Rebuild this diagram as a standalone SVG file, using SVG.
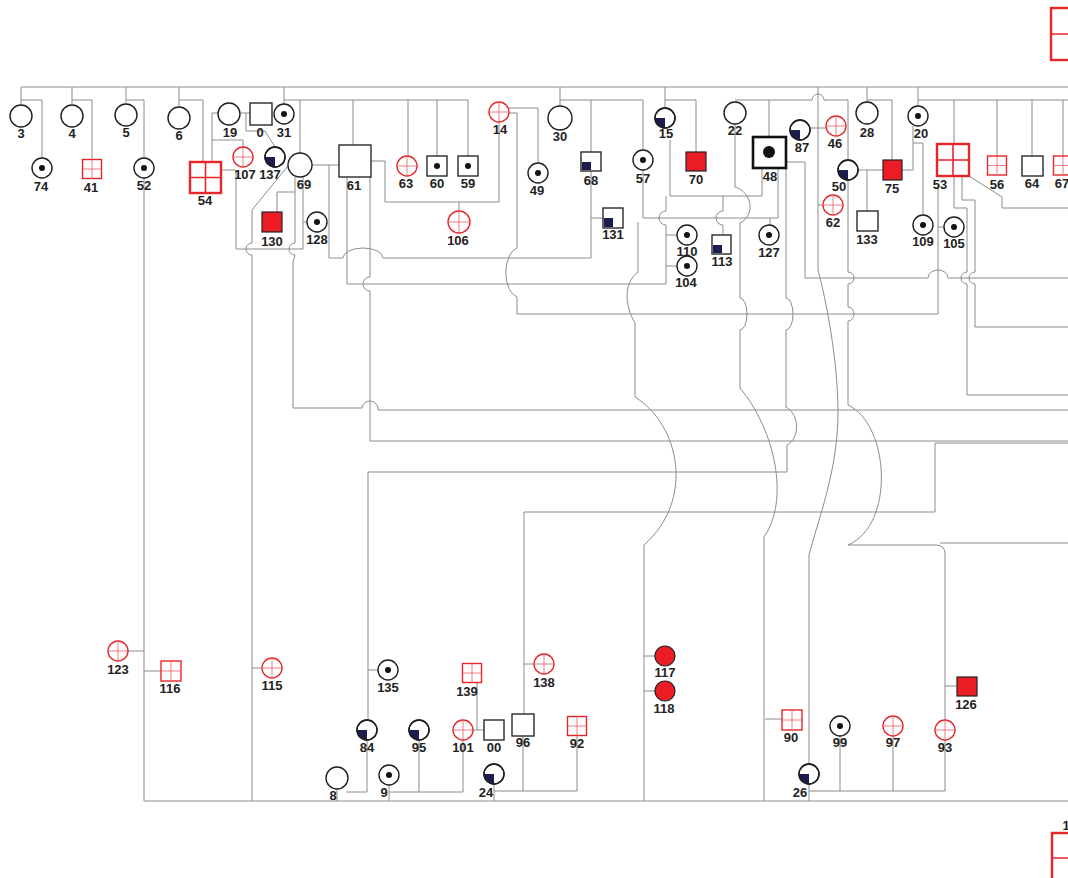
<svg xmlns="http://www.w3.org/2000/svg" width="1068" height="878" viewBox="0 0 1068 878">
<style>
.l{fill:none;stroke:#8c8c8c;stroke-width:1}
.c{fill:#fff;stroke:#1e1e1e;stroke-width:1.4}
.s{fill:#fff;stroke:#2a2a2a;stroke-width:1.4}
.r{fill:#fff;stroke:#e8262a;stroke-width:1.4}
.rb{fill:#fff;stroke:#e8262a;stroke-width:2.4}
.g{fill:none;stroke:#ef5a5e;stroke-width:0.8}
.gb{fill:none;stroke:#e8262a;stroke-width:1.6}
.rf{fill:#ec1c24;stroke:#222;stroke-width:1.2}
.q{fill:#1a1d4d}
.d{fill:#111}
.t{font-family:"Liberation Sans",Arial,Helvetica,sans-serif;font-size:13px;font-weight:bold;fill:#222;text-anchor:middle}
</style>
<rect width="1068" height="878" fill="#fff"/>
<g id="connectors">
<path class="l" d="M21,87 H1068"/>
<path class="l" d="M21,87 V104 M21,100 H42 V158"/>
<path class="l" d="M72,87 V104 M72,100 H92 V160"/>
<path class="l" d="M126,87 V103 M126,100 H144 V158 M144,178 V801"/>
<path class="l" d="M179,87 V106 M179,100 H203 V162"/>
<path class="l" d="M218,113 H212 V162 M212,140 H243 V147"/>
<path class="l" d="M241,113 H250 M246,113 V131 H265 L275,147"/>
<path class="l" d="M284,87 V104 M284,100 H468 M300,100 V153 M353,100 V145 M408,100 V156 M437,100 V156 M468,100 V156"/>
<path class="l" d="M221,170 H236 V249 H303 V177 M303,222 H307"/>
<path class="l" d="M295,177 V243 A6,6 0 0 0 295,255 L293,262 V408 H362 A8,8 0 0 1 378,410 H1068 M295,192 H277 V212"/>
<path class="l" d="M292,161 L252,210 V243 A6,6 0 0 0 252,255 V801 M252,668 H262"/>
<path class="l" d="M312,165 H339 M329,165 V258 H343 A20,10 0 0 1 383,258 H591 M591,171 V258 M591,218 H603"/>
<path class="l" d="M670,140 V196 H762 V168"/>
<path class="l" d="M666,196 V211 A7,7 0 0 0 666,225 V284 H347 V177 M666,235 H677 M666,266 H677"/>
<path class="l" d="M370,177 V277 A7,7 0 0 0 370,291 V441 H1068"/>
<path class="l" d="M371,161 H385 V202 H499 V123 M459,202 V211"/>
<path class="l" d="M509,108 H538 V163"/>
<path class="l" d="M509,113 H517 V248 A14,25 0 0 0 517,297 V314 H938 V186 M938,227 H944"/>
<path class="l" d="M560,87 V106 M560,100 H643 M591,100 V152 M643,100 V150"/>
<path class="l" d="M665,87 V107 M665,100 H696 V152"/>
<path class="l" d="M643,170 V218 H778 V168 M770,218 V225"/>
<path class="l" d="M723,196 V211 A7,7 0 0 0 723,225 V234"/>
<path class="l" d="M638,222 V272 C624,282 624,305 635,323 V397 C680,425 695,500 644,545 V801 M644,656 H655 M644,691 H655"/>
<path class="l" d="M735,124 V187 C752,192 756,215 740,223 V298 A7,16 0 0 1 740,330 V388 C775,430 790,500 764,537 V801 M765,719 H782"/>
<path class="l" d="M786,168 V298 A7,16 0 0 1 786,330 V407 C800,415 800,438 787,445 V472 H368 V720 M368,670 H378 M367,740 V792 H346 M337,789 V801"/>
<path class="l" d="M786,162 H805 V278 H928 A10,8 0 0 1 948,278 H1068"/>
<path class="l" d="M810,128 H826"/>
<path class="l" d="M735,100 H812 A6,6 0 0 1 824,100 H848 V160 M769,100 V137"/>
<path class="l" d="M818,87 V270 C826,300 838,360 838,413 C838,470 818,520 809,555 V764 M818,205 H823 M809,784 V801"/>
<path class="l" d="M848,180 V272 A6,6 0 0 1 848,284 V307 A6,7 0 0 1 848,321 V405 C890,425 895,525 848,545 H936 Q945,545 945,554 V720 M945,686 H957 M940,543 H1068"/>
<path class="l" d="M858,170 H883 M867,170 V211"/>
<path class="l" d="M867,87 V102 M867,100 H892 V160"/>
<path class="l" d="M918,87 V106 M918,100 H1068 M954,100 V144 M997,100 V156 M1032,100 V156 M1063,100 V156"/>
<path class="l" d="M913,126 V170 H902 M913,143 H923 V215"/>
<path class="l" d="M954,176 V208 H967 V272 A6,6 0 0 0 967,284 V395 H1068"/>
<path class="l" d="M962,176 V200 H975 V272 A6,6 0 0 0 975,284 V327 H1068"/>
<path class="l" d="M969,176 L1002,197 V208 H1068"/>
<path class="l" d="M1068,443 H935 V512 H524 V714 M524,664 H534"/>
<path class="l" d="M144,801 H1068"/>
<path class="l" d="M389,785 V801 M389,792 H463 V740 M419,740 V792"/>
<path class="l" d="M473,730 H484 M477,683 V730"/>
<path class="l" d="M523,736 V791 M494,784 V801 M494,791 H577 V736"/>
<path class="l" d="M809,791 H945 V740 M840,736 V791 M893,736 V791"/>
<path class="l" d="M128,651 H144 M144,671 H161"/>
</g>
<g id="n3"><circle class="c" cx="21" cy="116" r="11"/><text class="t" x="21" y="138">3</text></g>
<g id="n4"><circle class="c" cx="72" cy="116" r="11"/><text class="t" x="72" y="138">4</text></g>
<g id="n5"><circle class="c" cx="126" cy="115" r="11"/><text class="t" x="126" y="137">5</text></g>
<g id="n6"><circle class="c" cx="179" cy="118" r="11"/><text class="t" x="179" y="140">6</text></g>
<g id="n19"><circle class="c" cx="229" cy="114" r="11"/><text class="t" x="230" y="137">19</text></g>
<g id="n0"><rect class="s" x="250" y="103" width="22" height="22"/><text class="t" x="260" y="137">0</text></g>
<g id="n31"><circle class="c" cx="284" cy="114" r="10"/><circle class="d" cx="284" cy="114" r="3"/><text class="t" x="284" y="137">31</text></g>
<g id="n74"><circle class="c" cx="42" cy="168" r="10"/><circle class="d" cx="42" cy="168" r="3"/><text class="t" x="41" y="191">74</text></g>
<g id="n41"><rect class="r" x="82.5" y="159.5" width="19" height="19"/><path class="g" d="M92,159.5 V178.5 M82.5,169 H101.5"/><text class="t" x="91" y="192">41</text></g>
<g id="n52"><circle class="c" cx="144" cy="168" r="10"/><circle class="d" cx="144" cy="168" r="3"/><text class="t" x="144" y="190">52</text></g>
<g id="n54"><rect class="rb" x="190" y="162" width="31" height="31"/><path class="gb" d="M205.5,162 V193 M190,177.5 H221"/><text class="t" x="205" y="205">54</text></g>
<g id="n107"><circle class="r" cx="243" cy="157" r="10"/><path class="g" d="M243,147 V167 M233,157 H253"/><text class="t" x="245" y="179">107</text></g>
<g id="n137"><circle class="c" cx="275" cy="157" r="10"/><path class="q" d="M275,157 H265 A10,10 0 0 0 275,167 Z"/><circle cx="275" cy="157" r="10" fill="none" stroke="#1e1e1e" stroke-width="1.4"/><text class="t" x="270" y="179">137</text></g>
<g id="n69"><circle class="c" cx="300" cy="165" r="12"/><text class="t" x="304" y="189">69</text></g>
<g id="n61"><rect class="s" x="339" y="145" width="32" height="32"/><text class="t" x="354" y="190">61</text></g>
<g id="n63"><circle class="r" cx="407" cy="166" r="10"/><path class="g" d="M407,156 V176 M397,166 H417"/><text class="t" x="406" y="188">63</text></g>
<g id="n60"><rect class="s" x="427" y="156" width="20" height="20"/><circle class="d" cx="437" cy="166" r="3"/><text class="t" x="437" y="188">60</text></g>
<g id="n59"><rect class="s" x="458" y="156" width="20" height="20"/><circle class="d" cx="468" cy="166" r="3"/><text class="t" x="468" y="188">59</text></g>
<g id="n14"><circle class="r" cx="499" cy="112" r="10"/><path class="g" d="M499,102 V122 M489,112 H509"/><text class="t" x="500" y="134">14</text></g>
<g id="n106"><circle class="r" cx="459" cy="222" r="11"/><path class="g" d="M459,211 V233 M448,222 H470"/><text class="t" x="458" y="245">106</text></g>
<g id="n49"><circle class="c" cx="538" cy="173" r="10"/><circle class="d" cx="538" cy="173" r="3"/><text class="t" x="537" y="195">49</text></g>
<g id="n30"><circle class="c" cx="560" cy="118" r="12"/><text class="t" x="560" y="141">30</text></g>
<g id="n68"><rect class="s" x="581" y="152" width="20" height="19"/><rect class="q" x="582" y="162" width="9" height="8"/><text class="t" x="591" y="185">68</text></g>
<g id="n131"><rect class="s" x="603" y="208" width="20" height="20"/><rect class="q" x="604" y="218" width="9" height="9"/><text class="t" x="613" y="239">131</text></g>
<g id="n57"><circle class="c" cx="643" cy="160" r="10"/><circle class="d" cx="643" cy="160" r="3"/><text class="t" x="643" y="183">57</text></g>
<g id="n15"><circle class="c" cx="665" cy="118" r="10"/><path class="q" d="M665,118 H655 A10,10 0 0 0 665,128 Z"/><circle cx="665" cy="118" r="10" fill="none" stroke="#1e1e1e" stroke-width="1.4"/><text class="t" x="666" y="138">15</text></g>
<g id="n70"><rect class="rf" x="686" y="152" width="20" height="19"/><text class="t" x="696" y="184">70</text></g>
<g id="n22"><circle class="c" cx="735" cy="113" r="11"/><text class="t" x="735" y="135">22</text></g>
<g id="n48"><rect fill="#fff" stroke="#111" stroke-width="2.6" x="753" y="137" width="33" height="31"/><circle class="d" cx="769" cy="152" r="6"/><text class="t" x="770" y="181">48</text></g>
<g id="n87"><circle class="c" cx="800" cy="130" r="10"/><path class="q" d="M800,130 H790 A10,10 0 0 0 800,140 Z"/><circle cx="800" cy="130" r="10" fill="none" stroke="#1e1e1e" stroke-width="1.4"/><text class="t" x="802" y="152">87</text></g>
<g id="n46"><circle class="r" cx="836" cy="126" r="10"/><path class="g" d="M836,116 V136 M826,126 H846"/><text class="t" x="835" y="148">46</text></g>
<g id="n110"><circle class="c" cx="687" cy="235" r="10"/><circle class="d" cx="687" cy="235" r="3"/><text class="t" x="687" y="256">110</text></g>
<g id="n104"><circle class="c" cx="687" cy="266" r="10"/><circle class="d" cx="687" cy="266" r="3"/><text class="t" x="686" y="287">104</text></g>
<g id="n113"><rect class="s" x="712" y="235" width="19" height="19"/><rect class="q" x="713" y="245" width="9" height="8"/><text class="t" x="722" y="266">113</text></g>
<g id="n127"><circle class="c" cx="769" cy="235" r="10"/><circle class="d" cx="769" cy="235" r="3"/><text class="t" x="769" y="257">127</text></g>
<g id="n28"><circle class="c" cx="867" cy="113" r="11"/><text class="t" x="867" y="137">28</text></g>
<g id="n20"><circle class="c" cx="918" cy="116" r="10"/><circle class="d" cx="918" cy="116" r="3"/><text class="t" x="921" y="138">20</text></g>
<g id="n50"><circle class="c" cx="848" cy="170" r="10"/><path class="q" d="M848,170 H838 A10,10 0 0 0 848,180 Z"/><circle cx="848" cy="170" r="10" fill="none" stroke="#1e1e1e" stroke-width="1.4"/><text class="t" x="839" y="191">50</text></g>
<g id="n75"><rect class="rf" x="883" y="160" width="19" height="20"/><text class="t" x="892" y="193">75</text></g>
<g id="n53"><rect class="rb" x="937" y="144" width="32" height="32"/><path class="gb" d="M953,144 V176 M937,160 H969"/><text class="t" x="940" y="189">53</text></g>
<g id="n56"><rect class="r" x="987.5" y="156" width="19" height="19"/><path class="g" d="M997,156 V175 M987.5,165.5 H1006.5"/><text class="t" x="997" y="189">56</text></g>
<g id="n64"><rect class="s" x="1022" y="156" width="21" height="20"/><text class="t" x="1032" y="188">64</text></g>
<g id="n67"><rect class="r" x="1053.5" y="156" width="19" height="19"/><path class="g" d="M1063,156 V175 M1053.5,165.5 H1072"/><text class="t" x="1062" y="188">67</text></g>
<g id="n62"><circle class="r" cx="833" cy="205" r="10"/><path class="g" d="M833,195 V215 M823,205 H843"/><text class="t" x="833" y="227">62</text></g>
<g id="n133"><rect class="s" x="857" y="211" width="21" height="20"/><text class="t" x="867" y="244">133</text></g>
<g id="n109"><circle class="c" cx="923" cy="225" r="10"/><circle class="d" cx="923" cy="225" r="3"/><text class="t" x="923" y="246">109</text></g>
<g id="n105"><circle class="c" cx="954" cy="227" r="10"/><circle class="d" cx="954" cy="227" r="3"/><text class="t" x="954" y="248">105</text></g>
<g id="n130"><rect class="rf" x="262" y="212" width="20" height="20"/><text class="t" x="272" y="246">130</text></g>
<g id="n128"><circle class="c" cx="317" cy="222" r="10"/><circle class="d" cx="317" cy="222" r="3"/><text class="t" x="317" y="244">128</text></g>
<g id="nTR"><rect class="rb" x="1051" y="8" width="52" height="52"/><path class="gb" d="M1051,34 H1103"/></g>
<g id="nBR"><rect class="rb" x="1052" y="833" width="50" height="50"/><path class="gb" d="M1052,858 H1102"/><text class="t" x="1066" y="830">1</text></g>
<g id="n123"><circle class="r" cx="118" cy="651" r="10"/><path class="g" d="M118,641 V661 M108,651 H128"/><text class="t" x="118" y="674">123</text></g>
<g id="n116"><rect class="r" x="161" y="661" width="20" height="20"/><path class="g" d="M171,661 V681 M161,671 H181"/><text class="t" x="170" y="693">116</text></g>
<g id="n115"><circle class="r" cx="272" cy="668" r="10"/><path class="g" d="M272,658 V678 M262,668 H282"/><text class="t" x="272" y="690">115</text></g>
<g id="n135"><circle class="c" cx="388" cy="670" r="10"/><circle class="d" cx="388" cy="670" r="3"/><text class="t" x="388" y="692">135</text></g>
<g id="n84"><circle class="c" cx="367" cy="730" r="10"/><path class="q" d="M367,730 H357 A10,10 0 0 0 367,740 Z"/><circle cx="367" cy="730" r="10" fill="none" stroke="#1e1e1e" stroke-width="1.4"/><text class="t" x="367" y="752">84</text></g>
<g id="n95"><circle class="c" cx="419" cy="730" r="10"/><path class="q" d="M419,730 H409 A10,10 0 0 0 419,740 Z"/><circle cx="419" cy="730" r="10" fill="none" stroke="#1e1e1e" stroke-width="1.4"/><text class="t" x="419" y="752">95</text></g>
<g id="n8"><circle class="c" cx="337" cy="778" r="11"/><text class="t" x="333" y="800">8</text></g>
<g id="n9"><circle class="c" cx="389" cy="775" r="10"/><circle class="d" cx="389" cy="775" r="3"/><text class="t" x="384" y="797">9</text></g>
<g id="n139"><rect class="r" x="462.5" y="663.5" width="19" height="19"/><path class="g" d="M472,663.5 V682.5 M462.5,673 H481.5"/><text class="t" x="467" y="696">139</text></g>
<g id="n138"><circle class="r" cx="544" cy="664" r="10"/><path class="g" d="M544,654 V674 M534,664 H554"/><text class="t" x="544" y="687">138</text></g>
<g id="n101"><circle class="r" cx="463" cy="730" r="10"/><path class="g" d="M463,720 V740 M453,730 H473"/><text class="t" x="463" y="752">101</text></g>
<g id="n00"><rect class="s" x="484" y="720" width="20" height="20"/><text class="t" x="494" y="752">00</text></g>
<g id="n96"><rect class="s" x="512" y="714" width="22" height="22"/><text class="t" x="523" y="747">96</text></g>
<g id="n92"><rect class="r" x="567.5" y="716.5" width="19" height="19"/><path class="g" d="M577,716.5 V735.5 M567.5,726 H586.5"/><text class="t" x="577" y="748">92</text></g>
<g id="n24"><circle class="c" cx="494" cy="774" r="10"/><path class="q" d="M494,774 H484 A10,10 0 0 0 494,784 Z"/><circle cx="494" cy="774" r="10" fill="none" stroke="#1e1e1e" stroke-width="1.4"/><text class="t" x="486" y="797">24</text></g>
<g id="n117"><circle class="rf" cx="665" cy="656" r="10"/><text class="t" x="665" y="677">117</text></g>
<g id="n118"><circle class="rf" cx="665" cy="691" r="10"/><text class="t" x="664" y="713">118</text></g>
<g id="n90"><rect class="r" x="782" y="710" width="20" height="20"/><path class="g" d="M792,710 V730 M782,720 H802"/><text class="t" x="791" y="742">90</text></g>
<g id="n26"><circle class="c" cx="809" cy="774" r="10"/><path class="q" d="M809,774 H799 A10,10 0 0 0 809,784 Z"/><circle cx="809" cy="774" r="10" fill="none" stroke="#1e1e1e" stroke-width="1.4"/><text class="t" x="800" y="797">26</text></g>
<g id="n99"><circle class="c" cx="840" cy="726" r="10"/><circle class="d" cx="840" cy="726" r="3"/><text class="t" x="840" y="747">99</text></g>
<g id="n97"><circle class="r" cx="893" cy="726" r="10"/><path class="g" d="M893,716 V736 M883,726 H903"/><text class="t" x="893" y="747">97</text></g>
<g id="n93"><circle class="r" cx="945" cy="730" r="10"/><path class="g" d="M945,720 V740 M935,730 H955"/><text class="t" x="945" y="752">93</text></g>
<g id="n126"><rect class="rf" x="957" y="677" width="20" height="19"/><text class="t" x="966" y="709">126</text></g>
</svg>
